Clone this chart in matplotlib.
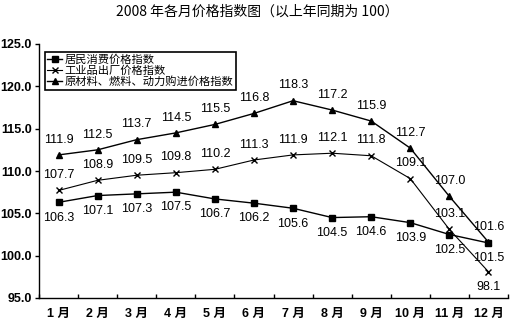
import matplotlib
matplotlib.use("Agg")
import matplotlib.pyplot as plt
import numpy as np

months = ["1 月", "2 月", "3 月", "4 月", "5 月", "6 月", "7 月", "8 月", "9 月", "10 月", "11 月", "12 月"]
cpi = [106.3, 107.1, 107.3, 107.5, 106.7, 106.2, 105.6, 104.5, 104.6, 103.9, 102.5, 101.5]
ppi = [107.7, 108.9, 109.5, 109.8, 110.2, 111.3, 111.9, 112.1, 111.8, 109.1, 103.1, 98.1]
rmpi = [111.9, 112.5, 113.7, 114.5, 115.5, 116.8, 118.3, 117.2, 115.9, 112.7, 107.0, 101.6]
series_names = ["居民消费价格指数", "工业品出厂价格指数", "原材料、燃料、动力购进价格指数"]
yticks = [95.0, 100.0, 105.0, 110.0, 115.0, 120.0, 125.0]
title = "2008 年各月价格指数图（以上年同期为 100）"

plt.rcParams['font.family'] = ['Liberation Sans', 'Noto Sans CJK SC', 'DejaVu Sans']

fig = plt.figure(figsize=(5.15, 3.26), dpi=100)
ax = fig.add_axes([39/515, 28/326, 469/515, 254/326])
x = np.arange(len(months))

l1, = ax.plot(x, cpi, color='black', lw=1, marker='s', ms=5)
l2, = ax.plot(x, ppi, color='black', lw=0.8, marker='x', ms=4, mew=1)
l3, = ax.plot(x, rmpi, color='black', lw=1, marker='^', ms=5)

lab_font = dict(fontsize=9, family=['Liberation Sans', 'DejaVu Sans'])
for xi, v in zip(x, cpi):
    ax.annotate(f"{v:.1f}", (xi, v), xytext=(0, -11), textcoords='offset points',
                ha='center', va='center', **lab_font)
for xi, v in zip(x, ppi):
    off = -11 if xi == 11 else 11
    ax.annotate(f"{v:.1f}", (xi, v), xytext=(0, off), textcoords='offset points',
                ha='center', va='center', **lab_font)
for xi, v in zip(x, rmpi):
    ax.annotate(f"{v:.1f}", (xi, v), xytext=(0, 11), textcoords='offset points',
                ha='center', va='center', **lab_font)

ax.set_xlim(-0.5, 11.5)
ax.set_ylim(95, 125)
ax.set_yticks(yticks)
ax.set_yticklabels([f"{t:.1f}" for t in yticks], fontweight='bold', fontsize=9)
ax.set_xticks(x)
ax.set_xticklabels(months, fontweight='bold', fontsize=9,
                   family=['Liberation Sans', 'Noto Sans CJK SC'])
ax.tick_params(axis='x', length=0, pad=7)
ax.set_xticks(np.arange(-0.5, 12, 1), minor=True)
ax.tick_params(axis='x', which='minor', direction='in', length=3, width=1)
ax.tick_params(axis='y', direction='out', length=3, width=1, pad=2)
ax.spines['top'].set_visible(False)
ax.spines['right'].set_visible(False)
for s in ['left', 'bottom']:
    ax.spines[s].set_linewidth(1)

leg = ax.legend([l1, l2, l3], series_names, loc='upper left', bbox_to_anchor=(0.012, 0.97),
                frameon=True, fancybox=False, edgecolor='black', framealpha=1,
                prop={'family': 'Noto Sans CJK SC', 'size': 8.1}, handlelength=1.3,
                handletextpad=0.2, borderpad=0.25, labelspacing=0.05, borderaxespad=0)
leg.get_frame().set_linewidth(1.2)

fig.text(0.5, 0.965, title, ha='center', va='center', fontsize=10,
         family=['Noto Sans CJK SC', 'DejaVu Sans'])

fig.savefig("out.png", dpi=100)
